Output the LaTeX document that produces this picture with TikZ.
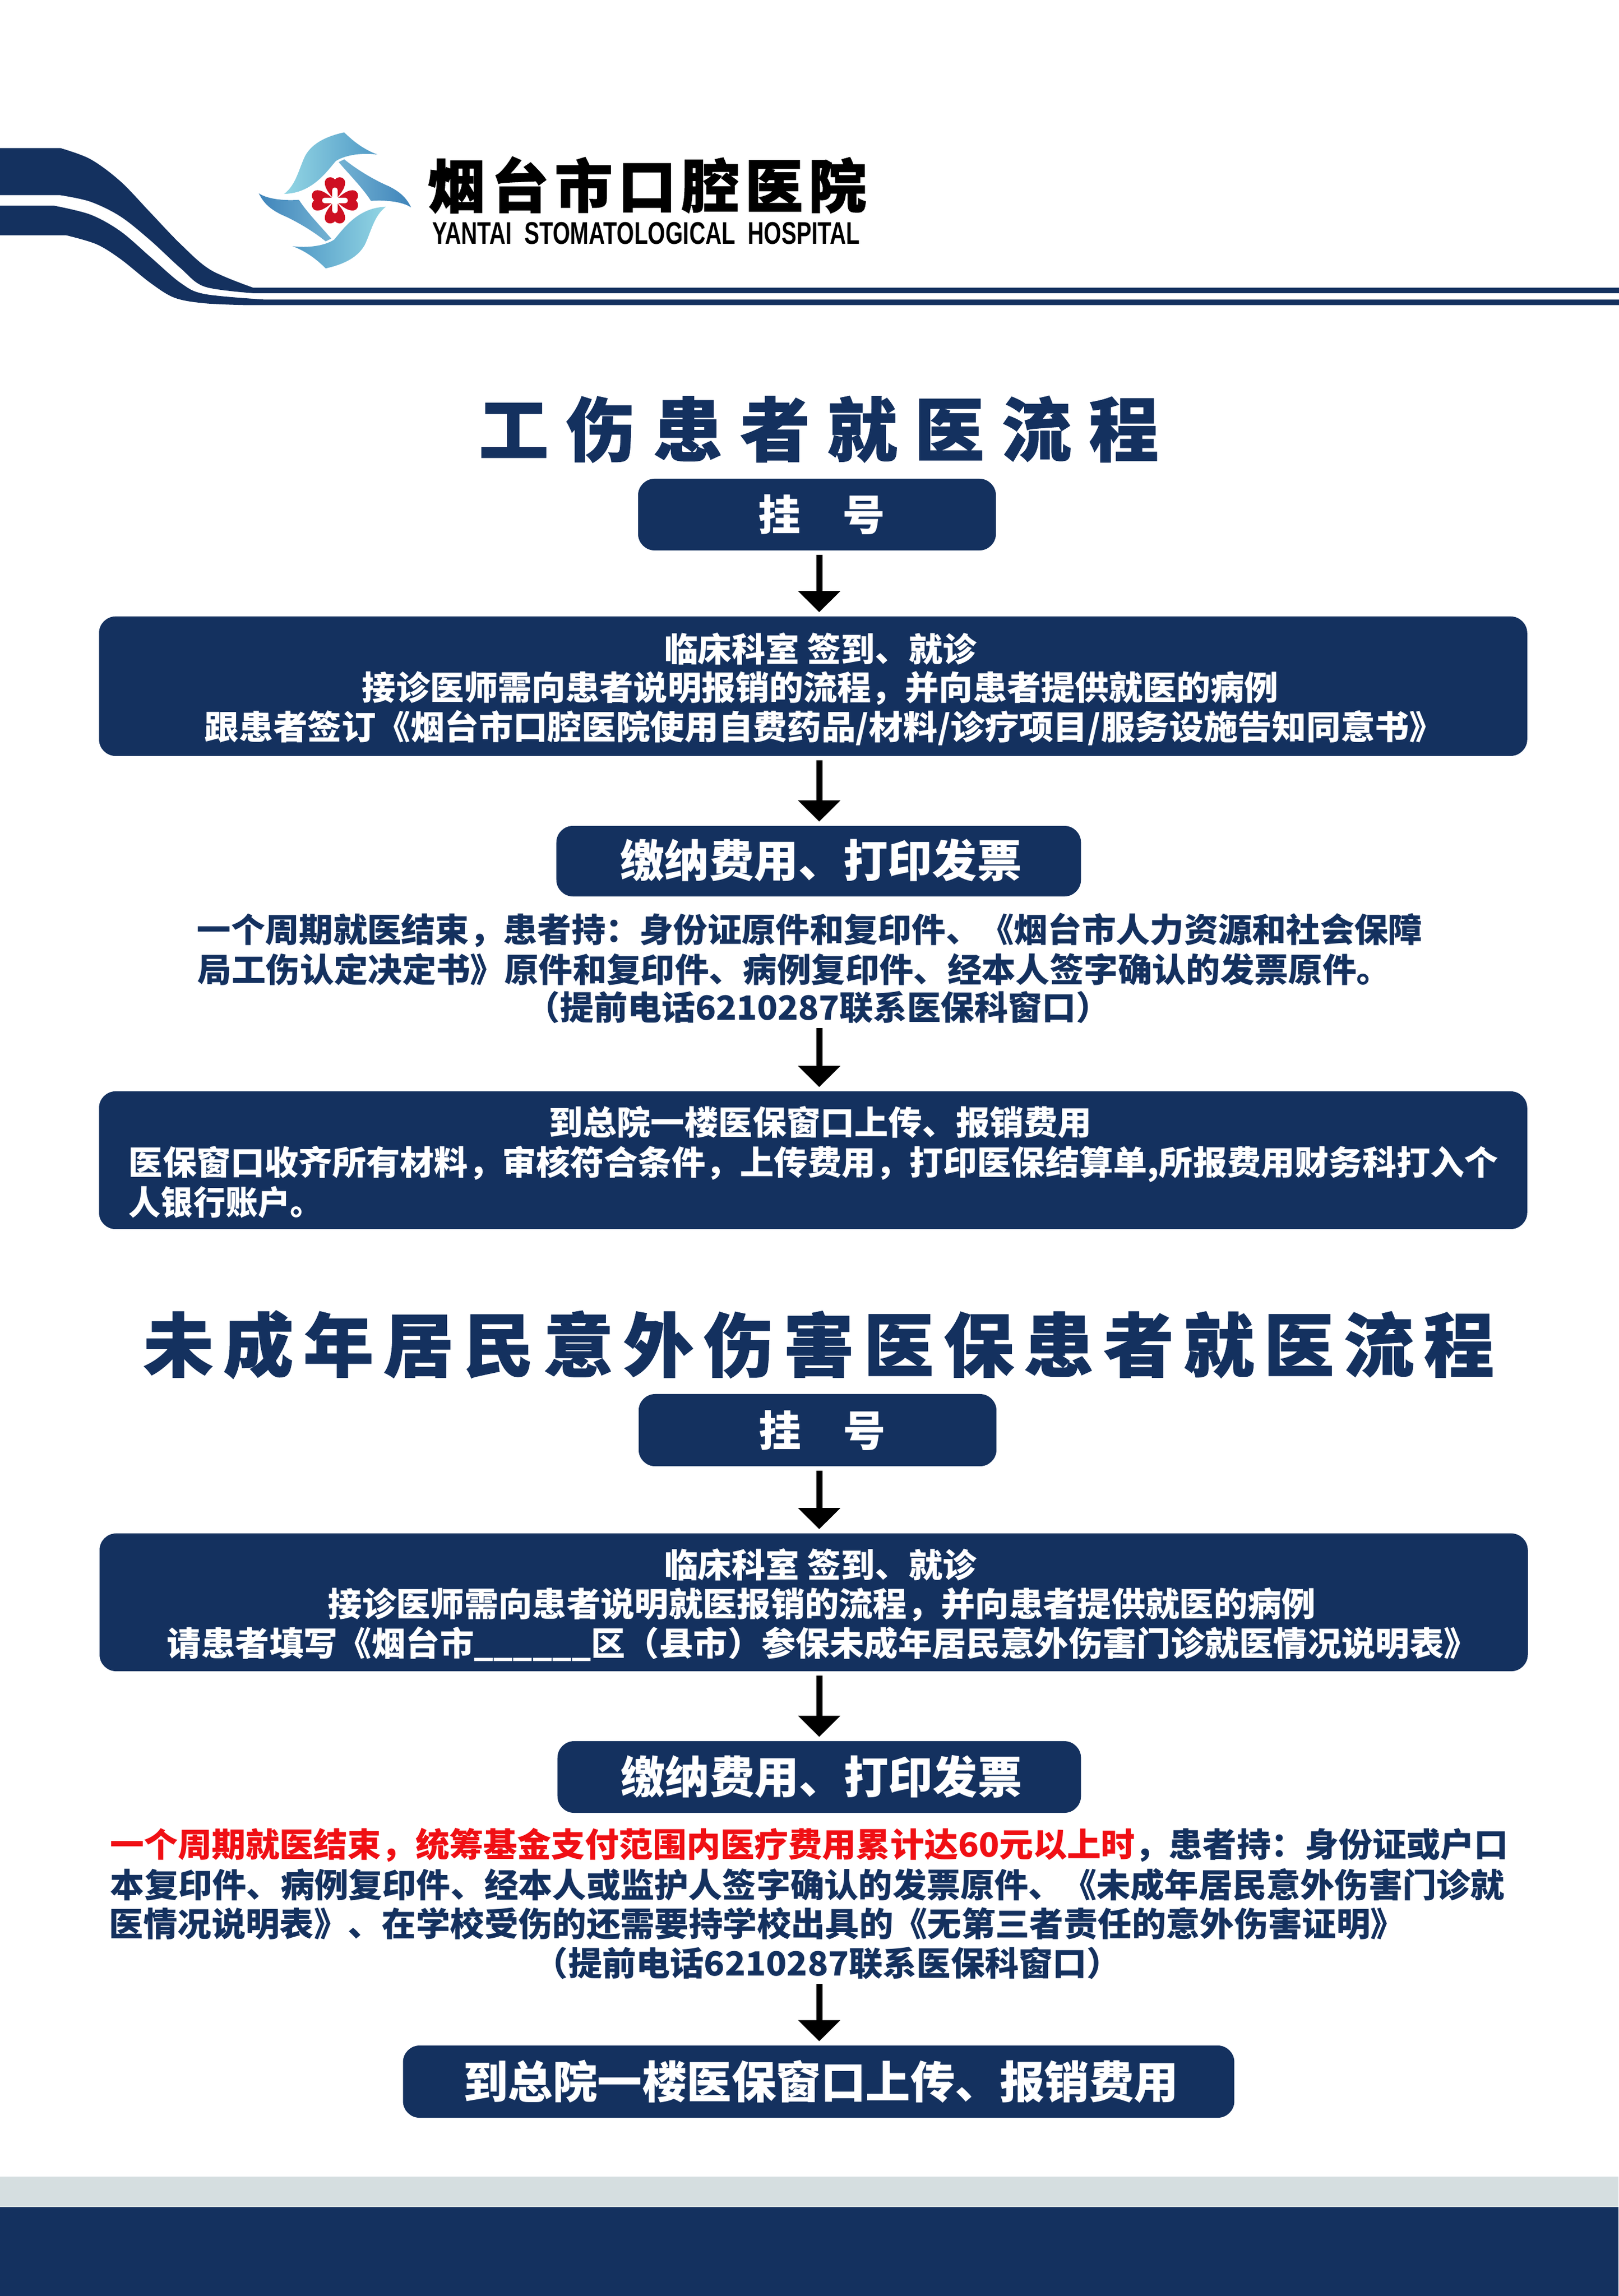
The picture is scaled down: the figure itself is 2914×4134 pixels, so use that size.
\documentclass[tikz,border=0pt]{standalone}
\usepackage{graphicx}
\usepackage{fontspec}
\usetikzlibrary{arrows.meta}
\newfontfamily\cjk{Noto Sans CJK SC}
\newfontfamily\cjklat{Liberation Sans}
\definecolor{navy}{HTML}{14315F}
\definecolor{footgray}{HTML}{D5DEE0}
\definecolor{redtxt}{HTML}{F00F14}
\definecolor{flowerred}{HTML}{CE0F22}
\definecolor{pale}{HTML}{93D6E4}
\definecolor{midblue}{HTML}{5099C6}
\definecolor{deepblue}{HTML}{3F84BA}
\definecolor{softblue}{HTML}{74B3D3}
\newlength\unitpx \setlength\unitpx{0.01cm}
\newcommand{\lbl}[3]{\resizebox{#1\unitpx}{\height}{\fontsize{\fpeval{#2*0.2845}pt}{\fpeval{#2*0.2845}pt}\selectfont\vphantom{国}#3}}
\tikzset{
  navybox/.style={draw=none,fill=navy,rounded corners=0.3cm,inner sep=0pt},
  wt/.style={text=white,inner sep=0pt,font=\cjk\bfseries},
  nt/.style={text=navy,inner sep=0pt,font=\cjk\bfseries},
  ttl/.style={text=navy,inner sep=0pt,font=\cjk\bfseries},
  flow/.style={draw=black,line width=0.11cm,-{Triangle[length=0.38cm,width=0.74cm]},shorten >=0.07cm,shorten <=0.07cm},
}
\begin{document}
\begin{tikzpicture}[x=0.01cm,y=-0.01cm]
\useasboundingbox (0,0) rectangle (2914,4134);
\fill[white] (0,0) rectangle (2914,4134);
% header bands
\begin{scope}[shift={(0,200)},x=0.01084cm,y=-0.003333cm]
\fill[navy] (0,200) -- plot[smooth,tension=.55] coordinates {(100,200)(150,260)(200,380)(250,550)(300,720)(350,860)(420,955)} -- (2690,955) -- (2690,985) -- plot[smooth,tension=.55] coordinates {(420,985)(340,950)(300,850)(250,700)(200,570)(150,490)(100,455)} -- (0,455) -- cycle;
\fill[navy] (0,512) -- plot[smooth,tension=.55] coordinates {(90,512)(150,560)(200,650)(250,790)(300,930)(340,990)(440,1020)} -- (2690,1020) -- (2690,1050) -- plot[smooth,tension=.55] coordinates {(410,1050)(340,1040)(290,1010)(250,930)(200,800)(160,720)(110,672)} -- (0,672) -- cycle;
\end{scope}
% logo
\begin{scope}[shift={(450,220)},x=0.003333cm,y=-0.003333cm]
\def\topsw{(510,55) .. controls (560,105) and (620,150) .. (690,175) .. controls (610,165) and (520,175) .. (465,210) .. controls (420,260) and (340,385) .. (185,388) .. controls (250,340) and (265,250) .. (300,180) .. controls (340,110) and (420,75) .. (510,55) -- cycle}
\def\leftsw{(48,385) .. controls (100,420) and (200,425) .. (265,420) .. controls (310,490) and (380,560) .. (440,630) -- (410,645) .. controls (330,580) and (230,525) .. (170,500) .. controls (110,470) and (75,440) .. (48,385) -- cycle}
\shade[left color=pale,right color=midblue] \topsw;
\shade[left color=deepblue,right color=softblue] \leftsw;
\begin{scope}[rotate around={180:(460,423)}]
\shade[right color=pale,left color=midblue] \topsw;
\shade[right color=deepblue,left color=softblue] \leftsw;
\end{scope}
\begin{scope}[shift={(460,423)}]
\foreach \a in {0,90,180,270}{
\fill[flowerred,rotate=\a] (0,0) .. controls (-20,-25) and (-55,-60) .. (-55,-95) .. controls (-55,-125) and (-20,-135) .. (0,-113) .. controls (20,-135) and (55,-125) .. (55,-95) .. controls (55,-60) and (20,-25) .. (0,0) -- cycle;
}
\draw[white,line width=0.1cm,line cap=round] (0,-55) -- (0,55) (-55,0) -- (55,0);
\end{scope}
\end{scope}
\node[text=black,inner sep=0pt,font=\cjk\bfseries] (logocn) at (1165,333) {\lbl{790}{104}{\addfontfeature{LetterSpace=10,FakeBold=1.5}烟台市口腔医院}};
\node[text=black,inner sep=0pt,font=\cjklat\bfseries] (logoen) at (1163,420) {\resizebox{770\unitpx}{\height}{\fontsize{16pt}{16pt}\selectfont YANTAI\ \ STOMATOLOGICAL\ \ HOSPITAL}};
% footer
\fill[footgray] (0,3919) rectangle (2914,3974);
\fill[navy] (0,3974) rectangle (2914,4134);
\coordinate (ax) at (1475,0);
% section 1
\node[ttl] (t1) at (1474,773) {\lbl{1224}{125}{\addfontfeature{LetterSpace=25,FakeBold=1}工伤患者就医流程}};
\node[navybox,minimum width=6.44cm,minimum height=1.29cm] (a1) at (1471,926.5) {};
\node[wt] (a1t) at (1479,927) {\lbl{228}{76}{挂　号}};
\node[navybox,minimum width=25.70cm,minimum height=2.51cm] (a2) at (1464,1235.5) {};
\node[wt] (a2l1) at (1477,1168) {\lbl{562}{60}{临床科室 签到、就诊}};
\node[wt] (a2l2) at (1477,1239) {\lbl{1650}{60}{接诊医师需向患者说明报销的流程，并向患者提供就医的病例}};
\node[wt] (a2l3) at (1484,1311) {\lbl{2230}{60}{跟患者签订《烟台市口腔医院使用自费药品/材料/诊疗项目/服务设施告知同意书》}};
\node[navybox,minimum width=9.44cm,minimum height=1.27cm] (a3) at (1474,1550.5) {};
\node[wt] (a3t) at (1478,1549) {\lbl{723}{80}{缴纳费用、打印发票}};
\node[nt] (p1l1) at (1458,1675) {\lbl{2206}{60}{一个周期就医结束，患者持：身份证原件和复印件、《烟台市人力资源和社会保障}};
\node[nt] (p1l2) at (1430,1745) {\lbl{2148}{60}{局工伤认定决定书》原件和复印件、病例复印件、经本人签字确认的发票原件。}};
\node[nt] (p1l3) at (1473,1814) {\lbl{1050}{60}{（提前电话6210287联系医保科窗口）}};
\node[navybox,minimum width=25.70cm,minimum height=2.48cm] (a4) at (1464,2089) {};
\node[wt] (a4l1) at (1477,2020) {\lbl{976}{60}{到总院一楼医保窗口上传、报销费用}};
\node[wt] (a4l2) at (1465,2096) {\lbl{2466}{60}{医保窗口收齐所有材料，审核符合条件，上传费用，打印医保结算单,所报费用财务科打入个}};
\node[wt] (a4l3) at (406,2165) {\lbl{348}{60}{人银行账户。}};
% section 2
\node[ttl] (t2) at (1474,2421) {\lbl{2432}{125}{\addfontfeature{LetterSpace=14,FakeBold=1}未成年居民意外伤害医保患者就医流程}};
\node[navybox,minimum width=6.44cm,minimum height=1.30cm] (b1) at (1472,2575) {};
\node[wt] (b1t) at (1480,2576) {\lbl{228}{76}{挂　号}};
\node[navybox,minimum width=25.70cm,minimum height=2.48cm] (b2) at (1465,2885) {};
\node[wt] (b2l1) at (1477,2817) {\lbl{562}{60}{临床科室 签到、就诊}};
\node[wt] (b2l2) at (1480,2889) {\lbl{1778}{60}{接诊医师需向患者说明就医报销的流程，并向患者提供就医的病例}};
\node[wt] (b2l3) at (1481,2960) {\lbl{2360}{60}{请患者填写《烟台市\_\_\_\_\_\_区（县市）参保未成年居民意外伤害门诊就医情况说明表》}};
\node[navybox,minimum width=9.42cm,minimum height=1.29cm] (b3) at (1475,3199.5) {};
\node[wt] (b3t) at (1479,3199) {\lbl{723}{80}{缴纳费用、打印发票}};
\node[nt] (p2l1) at (1457,3322) {\lbl{2517}{60}{\textcolor{redtxt}{一个周期就医结束，统筹基金支付范围内医疗费用累计达60元以上时}，患者持：身份证或户口}};
\node[nt] (p2l2) at (1454,3394) {\lbl{2510}{60}{本复印件、病例复印件、经本人或监护人签字确认的发票原件、《未成年居民意外伤害门诊就}};
\node[nt] (p2l3) at (1363,3464) {\lbl{2332}{60}{医情况说明表》、在学校受伤的还需要持学校出具的《无第三者责任的意外伤害证明》}};
\node[nt] (p2l4) at (1490,3535) {\lbl{1056}{60}{（提前电话6210287联系医保科窗口）}};
\node[navybox,minimum width=14.96cm,minimum height=1.30cm] (b4) at (1474,3748) {};
\node[wt] (b4t) at (1478,3748) {\lbl{1288}{80}{到总院一楼医保窗口上传、报销费用}};
% arrows
\draw[flow] (a1.south -| ax) -- (a2.north -| ax);
\draw[flow] (a2.south -| ax) -- (a3.north -| ax);
\draw[flow] (p1l3.south -| ax) -- (a4.north -| ax);
\draw[flow] (b1.south -| ax) -- (b2.north -| ax);
\draw[flow] (b2.south -| ax) -- (b3.north -| ax);
\draw[flow] (p2l4.south -| ax) -- (b4.north -| ax);
\end{tikzpicture}
\end{document}
